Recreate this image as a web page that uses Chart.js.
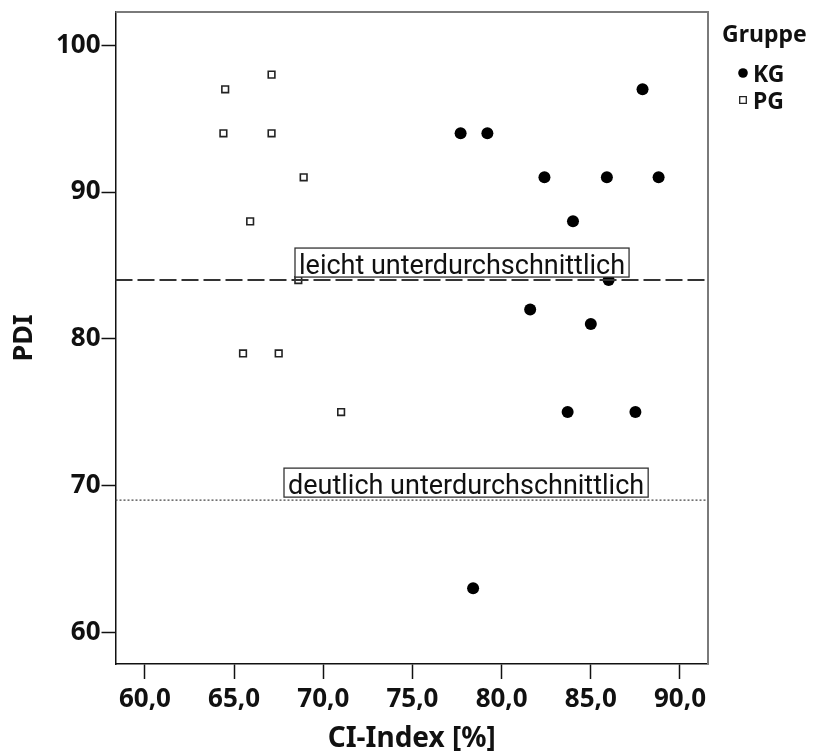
<!DOCTYPE html>
<html>
<head>
<meta charset="utf-8">
<script src="https://cdn.jsdelivr.net/npm/chart.js@4.4.1/dist/chart.umd.min.js"></script>
<style>
  html, body { margin: 0; padding: 0; background: #fff; }
  #wrap { width: 813px; height: 756px; }
</style>
</head>
<body>
<div id="wrap"><canvas id="c" width="813" height="756"></canvas></div>
<script>
// Group KG (filled circles): CI-Index [%] and PDI
const kgCI  = [87.9, 77.7, 79.2, 82.4, 85.9, 88.8, 84.0, 86.0, 81.6, 85.0, 83.7, 87.5, 78.4];
const kgPDI = [97,   94,   94,   91,   91,   91,   88,   84,   82,   81,   75,   75,   63];

// Group PG (open squares)
const pgCI  = [67.1, 64.5, 64.4, 67.1, 68.9, 65.9, 68.6, 65.5, 67.5, 71.0];
const pgPDI = [98,   97,   94,   94,   91,   88,   84,   79,   79,   75];

const groupNames = ['KG', 'PG'];
const legendTitle = 'Gruppe';

// Axis ticks
const xTicks = [60, 65, 70, 75, 80, 85, 90];
const yTicks = [60, 70, 80, 90, 100];

// Reference lines on the PDI axis
const refValues = [84, 69];
const refLabels = ['leicht unterdurchschnittlich', 'deutlich unterdurchschnittlich'];

const toPoints = (xs, ys) => xs.map((x, i) => ({ x: x, y: ys[i] }));

// Horizontal reference lines with boxed captions
const refLinePlugin = {
  id: 'refLines',
  afterDatasetsDraw(chart, args, opts) {
    const { ctx, chartArea: a, scales: { y } } = chart;
    refValues.forEach((v, i) => {
      const py = y.getPixelForValue(v);
      const st = opts.styles[i];
      ctx.save();
      ctx.beginPath();
      ctx.setLineDash(st.dash);
      ctx.lineWidth = st.width;
      ctx.strokeStyle = st.color;
      ctx.moveTo(a.left, py);
      ctx.lineTo(a.right, py);
      ctx.stroke();
      ctx.setLineDash([]);
      // caption box
      ctx.font = opts.font;
      const tw = ctx.measureText(refLabels[i]).width;
      const bx = a.left + st.boxOffset;
      const bw = tw + 2 * opts.padX;
      const bh = opts.boxHeight;
      const bottom = py - opts.gap;
      ctx.fillStyle = '#fff';
      ctx.fillRect(bx, bottom - bh, bw, bh);
      ctx.lineWidth = 1.3;
      ctx.strokeStyle = '#333';
      ctx.strokeRect(bx, bottom - bh, bw, bh);
      ctx.fillStyle = '#111';
      ctx.textBaseline = 'alphabetic';
      ctx.textAlign = 'left';
      ctx.fillText(refLabels[i], bx + opts.padX, bottom - opts.baseLift);
      ctx.restore();
    });
  }
};

// Top and right edges of the plot frame
const framePlugin = {
  id: 'frame',
  afterDraw(chart) {
    const { ctx, chartArea: a } = chart;
    ctx.save();
    ctx.strokeStyle = '#7a7a7a';
    ctx.lineWidth = 2;
    ctx.beginPath();
    ctx.moveTo(a.left, a.top);
    ctx.lineTo(a.right, a.top);
    ctx.lineTo(a.right, a.bottom);
    ctx.stroke();
    ctx.restore();
  }
};

// Legend on the right: title plus one row per group
const sideLegendPlugin = {
  id: 'sideLegend',
  afterDraw(chart, args, opts) {
    const { ctx } = chart;
    ctx.save();
    ctx.font = opts.font;
    ctx.fillStyle = '#111';
    ctx.textAlign = 'left';
    ctx.textBaseline = 'alphabetic';
    ctx.fillText(legendTitle, opts.x, opts.titleBaseline);
    chart.data.datasets.forEach((ds, i) => {
      const base = opts.rowBaselines[i];
      const cy = base - opts.markLift;
      ctx.beginPath();
      if (ds.pointStyle === 'circle') {
        ctx.fillStyle = '#000';
        ctx.arc(opts.markX, cy, 4.8, 0, Math.PI * 2);
        ctx.fill();
      } else {
        ctx.fillStyle = '#fff';
        ctx.strokeStyle = '#222';
        ctx.lineWidth = 1.3;
        ctx.rect(opts.markX - 3.3, cy - 3.3, 6.6, 6.6);
        ctx.fill();
        ctx.stroke();
      }
      ctx.fillStyle = '#111';
      ctx.fillText(ds.label, opts.textX, base);
    });
    ctx.restore();
  }
};

const fmtX = v => v.toFixed(1).replace('.', ',');

new Chart(document.getElementById('c'), {
  type: 'scatter',
  data: {
    datasets: [
      {
        label: groupNames[0],
        data: toPoints(kgCI, kgPDI),
        pointStyle: 'circle',
        pointRadius: 6,
        pointHoverRadius: 6,
        backgroundColor: '#000',
        borderColor: '#000',
        borderWidth: 0
      },
      {
        label: groupNames[1],
        data: toPoints(pgCI, pgPDI),
        pointStyle: 'rect',
        pointRadius: 4.7,
        pointHoverRadius: 4.7,
        backgroundColor: '#fff',
        borderColor: '#222',
        borderWidth: 1.6
      }
    ]
  },
  options: {
    responsive: false,
    animation: false,
    devicePixelRatio: 1,
    layout: { padding: { top: 12, right: 105, left: 0, bottom: 0 } },
    plugins: {
      legend: { display: false },
      tooltip: { enabled: false },
      refLines: {
        font: '27px Roboto',
        padX: 4,
        boxHeight: 29,
        gap: 3,
        baseLift: 3,
        styles: [
          { dash: [17, 5], width: 2, color: '#333', boxOffset: 179.5 },
          { dash: [2, 2], width: 1.2, color: '#444', boxOffset: 168.5 }
        ]
      },
      sideLegend: {
        font: 'bold 23px "Noto Sans"',
        x: 722,
        titleBaseline: 42,
        markX: 743,
        textX: 753,
        rowBaselines: [82, 109],
        markLift: 9
      }
    },
    scales: {
      x: {
        type: 'linear',
        min: 58.35,
        max: 91.57,
        afterFit(scale) {
          scale.height = 92;
          scale.paddingLeft = 0;
          scale.paddingRight = 0;
        },
        afterBuildTicks(scale) { scale.ticks = xTicks.map(v => ({ value: v })); },
        ticks: {
          callback: v => fmtX(v),
          color: '#111',
          font: { family: '"Noto Sans"', size: 26, weight: 'bold' },
          padding: 5,
          maxRotation: 0,
          autoSkip: false
        },
        grid: {
          drawOnChartArea: false,
          drawTicks: true,
          tickLength: 15,
          tickColor: '#111',
          tickWidth: 1.5
        },
        border: { display: true, color: '#111', width: 1.5 },
        title: {
          display: true,
          text: 'CI-Index [%]',
          color: '#111',
          font: { family: '"Noto Sans"', size: 28, weight: 'bold', lineHeight: 1.2 },
          padding: { top: 0, bottom: 0 }
        }
      },
      y: {
        type: 'linear',
        min: 57.83,
        max: 102.27,
        afterFit(scale) {
          scale.width = 115.5;
          scale.paddingTop = 0;
          scale.paddingBottom = 0;
        },
        afterBuildTicks(scale) { scale.ticks = yTicks.map(v => ({ value: v })); },
        ticks: {
          callback: v => String(v),
          color: '#111',
          font: { family: '"Noto Sans"', size: 26, weight: 'bold' },
          padding: 1,
          autoSkip: false
        },
        grid: {
          drawOnChartArea: false,
          drawTicks: true,
          tickLength: 14,
          tickColor: '#111',
          tickWidth: 1.5
        },
        border: { display: true, color: '#111', width: 1.5 },
        title: {
          display: true,
          text: 'PDI',
          color: '#111',
          font: { family: '"Noto Sans"', size: 27, weight: 'bold', lineHeight: 1.2 },
          padding: { top: 8, bottom: 0 }
        }
      }
    }
  },
  plugins: [refLinePlugin, framePlugin, sideLegendPlugin]
});
</script>
</body>
</html>
